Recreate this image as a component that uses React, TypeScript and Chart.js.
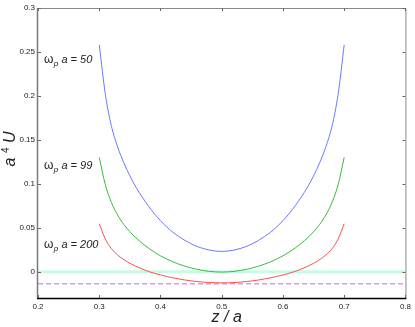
import React, { useEffect, useRef } from 'react';
import { Chart, registerables } from 'chart.js';

Chart.register(...registerables);

// ---- data ----
const zValues = [0.30, 0.31, 0.32, 0.33, 0.34, 0.35, 0.36, 0.37, 0.38, 0.39, 0.40,
  0.41, 0.42, 0.43, 0.44, 0.45, 0.46, 0.47, 0.48, 0.49, 0.50,
  0.51, 0.52, 0.53, 0.54, 0.55, 0.56, 0.57, 0.58, 0.59, 0.60,
  0.61, 0.62, 0.63, 0.64, 0.65, 0.66, 0.67, 0.68, 0.69, 0.70];
const uWp50 = [0.258, 0.2016, 0.1652, 0.142, 0.124, 0.109, 0.096, 0.085, 0.075, 0.066, 0.058,
  0.051, 0.045, 0.040, 0.0355, 0.0318, 0.0286, 0.0263, 0.0245, 0.0234, 0.023,
  0.0234, 0.0245, 0.0263, 0.0286, 0.0318, 0.0355, 0.040, 0.045, 0.051, 0.058,
  0.066, 0.075, 0.085, 0.096, 0.109, 0.124, 0.142, 0.1652, 0.2016, 0.258];
const uWp99 = [0.130, 0.0987, 0.0785, 0.0644, 0.0538, 0.0454, 0.0384, 0.0323, 0.0269, 0.0222, 0.0180,
  0.0144, 0.0112, 0.0085, 0.0062, 0.0042, 0.0026, 0.0013, 0.0003, -0.0003, -0.0005,
  -0.0003, 0.0003, 0.0013, 0.0026, 0.0042, 0.0062, 0.0085, 0.0112, 0.0144, 0.0180,
  0.0222, 0.0269, 0.0323, 0.0384, 0.0454, 0.0538, 0.0644, 0.0785, 0.0987, 0.130];
const uWp200 = [0.0545, 0.037, 0.026, 0.019, 0.0137, 0.0095, 0.006, 0.003, 0.0003, -0.0019, -0.0038,
  -0.0055, -0.0070, -0.0083, -0.0095, -0.0105, -0.0113, -0.0119, -0.0124, -0.0127, -0.0128,
  -0.0127, -0.0124, -0.0119, -0.0113, -0.0105, -0.0095, -0.0083, -0.0070, -0.0055, -0.0038,
  -0.0019, 0.0003, 0.003, 0.006, 0.0095, 0.0137, 0.019, 0.026, 0.037, 0.0545];
const refZ = [0.2, 0.8];
const zeroLevel = [0, 0];
const limitLevel = [-0.0137, -0.0137];

const xTicks = [0.2, 0.3, 0.4, 0.5, 0.6, 0.7, 0.8];
const yTicks = [0, 0.05, 0.1, 0.15, 0.2, 0.25, 0.3];

const curveLabels = ['50', '99', '200'];
const labelZ = [0.2098, 0.2098, 0.2098];
const labelU = [0.2375, 0.1167, 0.0265];

const FONT = "'Liberation Sans', Arial, Helvetica, sans-serif";

const pts = (xs: number[], ys: number[]) => xs.map((x, i) => ({ x, y: ys[i] }));

const decorPlugin = {
  id: 'decor',
  afterDraw(chart: any) {
    const { ctx, chartArea } = chart;
    const xs = chart.scales.x;
    const ys = chart.scales.y;
    const { left, right, top, bottom } = chartArea;
    ctx.save();
    // box
    ctx.lineWidth = 1;
    ctx.strokeStyle = '#8a8a8a';
    ctx.beginPath();
    ctx.moveTo(left, top + 0.5);
    ctx.lineTo(right + 0.5, top + 0.5);
    ctx.lineTo(right + 0.5, bottom);
    ctx.stroke();
    ctx.lineWidth = 1.5;
    ctx.strokeStyle = '#7a7a7a';
    ctx.beginPath();
    ctx.moveTo(left - 0.5, top);
    ctx.lineTo(left - 0.5, bottom);
    ctx.stroke();
    ctx.strokeStyle = '#000';
    ctx.beginPath();
    ctx.moveTo(left - 1, bottom + 0.5);
    ctx.lineTo(right + 1, bottom + 0.5);
    ctx.stroke();
    // inward ticks
    ctx.lineWidth = 1;
    ctx.strokeStyle = '#666';
    const tl = 3;
    ctx.beginPath();
    for (const v of xTicks) {
      const px = Math.round(xs.getPixelForValue(v)) + 0.5;
      ctx.moveTo(px, bottom);
      ctx.lineTo(px, bottom - tl);
      ctx.moveTo(px, top);
      ctx.lineTo(px, top + tl);
    }
    for (const v of yTicks) {
      const py = Math.round(ys.getPixelForValue(v)) + 0.5;
      ctx.moveTo(left, py);
      ctx.lineTo(left + tl, py);
      ctx.moveTo(right, py);
      ctx.lineTo(right - tl, py);
    }
    ctx.stroke();

    // curve labels
    ctx.fillStyle = '#222';
    ctx.textBaseline = 'alphabetic';
    ctx.textAlign = 'left';
    curveLabels.forEach((lab, i) => {
      let px = xs.getPixelForValue(labelZ[i]);
      const py = ys.getPixelForValue(labelU[i]);
      ctx.font = `12px ${FONT}`;
      ctx.fillText('ω', px, py);
      px += ctx.measureText('ω').width;
      ctx.font = `italic 8px ${FONT}`;
      ctx.fillText('p', px + 0.5, py + 3);
      px += ctx.measureText('p').width + 0.5;
      ctx.font = `italic 11px ${FONT}`;
      ctx.fillText(' a = ' + lab, px, py);
    });

    // x title
    ctx.font = `italic 16px ${FONT}`;
    ctx.textAlign = 'center';
    ctx.fillText('z / a', (left + right) / 2 + 5, bottom + 24);

    // y title
    ctx.save();
    ctx.translate(15, (top + bottom) / 2 - 4);
    ctx.rotate(-Math.PI / 2);
    ctx.textAlign = 'left';
    const partA = 'a ';
    const partS = '4';
    const partU = ' U';
    ctx.font = `italic 16px ${FONT}`;
    const wA = ctx.measureText(partA).width;
    const wU = ctx.measureText(partU).width;
    ctx.font = `10px ${FONT}`;
    const wS = ctx.measureText(partS).width;
    let cx = -(wA + wS + wU) / 2;
    ctx.font = `italic 16px ${FONT}`;
    ctx.fillText(partA, cx, 0);
    cx += wA;
    ctx.font = `10px ${FONT}`;
    ctx.fillText(partS, cx, -6);
    cx += wS;
    ctx.font = `italic 16px ${FONT}`;
    ctx.fillText(partU, cx, 0);
    ctx.restore();

    ctx.restore();
  },
};

export default function App() {
  const ref = useRef<HTMLCanvasElement>(null);
  useEffect(() => {
    if (!ref.current) return;
    const chart = new Chart(ref.current, {
      type: 'line',
      data: {
        datasets: [
          { data: pts(zValues, uWp50), borderColor: '#6878ff', borderWidth: 1, pointRadius: 0, cubicInterpolationMode: 'monotone' },
          { data: pts(zValues, uWp99), borderColor: '#3cb83c', borderWidth: 1, pointRadius: 0, cubicInterpolationMode: 'monotone' },
          { data: pts(zValues, uWp200), borderColor: '#ff4d4d', borderWidth: 1, pointRadius: 0, cubicInterpolationMode: 'monotone' },
          { data: pts(refZ, zeroLevel), borderColor: '#c8fbe4', borderWidth: 3, pointRadius: 0 },
          { data: pts(refZ, limitLevel), borderColor: '#cf9ef7', borderWidth: 1.5, borderDash: [5, 3], pointRadius: 0 },
        ],
      } as any,
      options: {
        animation: false,
        responsive: false,
        events: [],
        layout: { padding: { top: 8, right: 9, left: 0, bottom: 0 } },
        plugins: { legend: { display: false }, tooltip: { enabled: false } },
        scales: {
          x: {
            type: 'linear',
            min: 0.2,
            max: 0.8,
            afterBuildTicks: (s: any) => { s.ticks = xTicks.map((v) => ({ value: v })); },
            afterFit: (s: any) => { s.height = 29; },
            grid: { display: false, drawTicks: false },
            border: { display: false },
            ticks: {
              padding: 4,
              color: '#222',
              font: { family: FONT, size: 8 },
              maxRotation: 0,
              callback: (v: any) => String(v),
            },
          },
          y: {
            type: 'linear',
            min: -0.03,
            max: 0.3,
            afterBuildTicks: (s: any) => { s.ticks = yTicks.map((v) => ({ value: v })); },
            afterFit: (s: any) => { s.width = 38; },
            grid: { display: false, drawTicks: false },
            border: { display: false },
            ticks: {
              padding: 3,
              color: '#222',
              font: { family: FONT, size: 8 },
              callback: (v: any) => String(v),
            },
          },
        },
      } as any,
      plugins: [decorPlugin],
    });
    return () => chart.destroy();
  }, []);
  return (
    <div style={{ position: 'fixed', left: 0, top: 0, width: 415, height: 327, background: '#fff' }}>
      <canvas ref={ref} width={415} height={327} style={{ display: 'block' }} />
    </div>
  );
}
